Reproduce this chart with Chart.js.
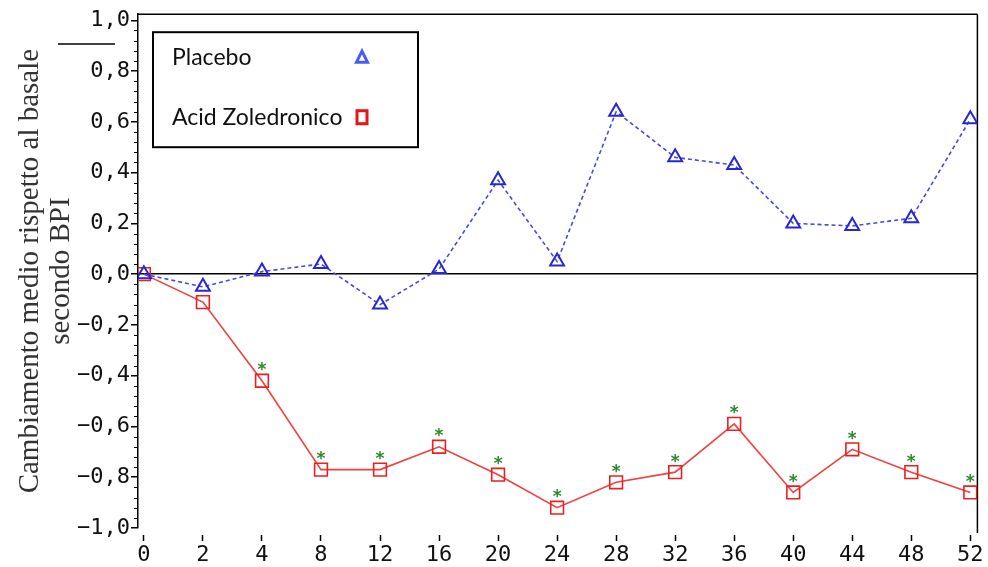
<!DOCTYPE html>
<html>
<head>
<meta charset="utf-8">
<script src="https://cdn.jsdelivr.net/npm/chart.js@4.4.1/dist/chart.umd.min.js"></script>
<style>
html, body { margin: 0; padding: 0; background: #fff; }
</style>
</head>
<body>
<canvas id="bpiChart" width="988" height="567"></canvas>
<script>
// settimane (asse x) e valori
const weeks = ["0", "2", "4", "8", "12", "16", "20", "24", "28", "32", "36", "40", "44", "48", "52"]
const placebo = [0, -0.05, 0.01, 0.04, -0.12, 0.02, 0.37, 0.05, 0.64, 0.46, 0.43, 0.20, 0.19, 0.22, 0.61]
const zoledronico = [0, -0.11, -0.42, -0.77, -0.77, -0.68, -0.79, -0.92, -0.82, -0.78, -0.59, -0.86, -0.69, -0.78, -0.86]
const signif = ["", "", "*", "*", "*", "*", "*", "*", "*", "*", "*", "*", "*", "*", "*"]
const yTicks = [-1.0, -0.8, -0.6, -0.4, -0.2, 0, 0.2, 0.4, 0.6, 0.8, 1.0]
const yTitle = ["Cambiamento medio rispetto al basale", "secondo BPI"]
const seriesNames = ["Placebo", "Acid Zoledronico"]

const monoFont = "'DejaVu Sans Mono', monospace"

function fmtY(v) {
    return v.toFixed(1).replace(".", ",").replace("-", "\u2212")
}

// cornice superiore e destra, tacche minori sull'asse y
const framePlugin = {
    id: "frame",
    beforeDatasetsDraw(chart) {
        const ctx = chart.ctx
        const a = chart.chartArea
        const y = chart.scales.y
        ctx.save()
        ctx.strokeStyle = "#000"
        ctx.lineWidth = 1.5
        ctx.beginPath()
        ctx.moveTo(a.left, a.top)
        ctx.lineTo(a.right, a.top)
        ctx.moveTo(a.right, a.top)
        ctx.lineTo(a.right, a.bottom + 5)
        ctx.stroke()
        ctx.lineWidth = 1.2
        ctx.beginPath()
        for (let i = -25; i <= 25; i++) {
            if (i % 5 == 0) continue
            const py = Math.round(y.getPixelForValue(i * 0.04)) + 0.5
            ctx.moveTo(a.left - 4, py)
            ctx.lineTo(a.left, py)
        }
        ctx.stroke()
        // trattino in alto a sinistra
        ctx.lineWidth = 1.5
        ctx.beginPath()
        ctx.moveTo(58, 44)
        ctx.lineTo(115, 44)
        ctx.stroke()
        ctx.restore()
    }
}

// asterischi verdi sopra i punti significativi
const starPlugin = {
    id: "stars",
    afterDatasetsDraw(chart) {
        const ctx = chart.ctx
        const meta = chart.getDatasetMeta(1)
        ctx.save()
        ctx.fillStyle = "#2a8a2a"
        ctx.font = "bold 17px 'DejaVu Sans'"
        ctx.textAlign = "center"
        ctx.textBaseline = "middle"
        signif.forEach((s, i) => {
            if (!s) return
            const p = meta.data[i]
            ctx.fillText(s, p.x, p.y - 10)
        })
        ctx.restore()
    }
}

// legenda riquadrata come nell'originale
const legendBoxPlugin = {
    id: "legendBox",
    afterDraw(chart) {
        const ctx = chart.ctx
        const a = chart.chartArea
        const bx = a.left + 15, by = a.top + 18, bw = 265, bh = 115
        ctx.save()
        ctx.strokeStyle = "#000"
        ctx.lineWidth = 2
        ctx.strokeRect(bx, by, bw, bh)
        ctx.fillStyle = "#111"
        ctx.font = "23px Lato"
        ctx.textBaseline = "middle"
        ctx.textAlign = "left"
        const rows = [by + 25, by + 85]
        seriesNames.forEach((name, i) => {
            ctx.fillText(name, bx + 19, rows[i])
        })
        const sx = bx + 209
        ctx.lineWidth = 3
        ctx.strokeStyle = "#4a5cf0"
        ctx.beginPath()
        ctx.moveTo(sx, rows[0] - 6)
        ctx.lineTo(sx + 5.5, rows[0] + 5)
        ctx.lineTo(sx - 5.5, rows[0] + 5)
        ctx.closePath()
        ctx.stroke()
        ctx.strokeStyle = "#e81515"
        ctx.strokeRect(sx - 5, rows[1] - 6.5, 10, 13)
        ctx.restore()
    }
}

const ctx = document.getElementById("bpiChart")
const bpiChart = new Chart(ctx, {
    type: "line",
    data: {
        datasets: [{
            label: seriesNames[0],
            data: placebo.map((v, i) => ({ x: i, y: v })),
            borderColor: "#4848e4",
            borderWidth: 1.6,
            borderDash: [4, 3],
            pointStyle: "triangle",
            pointRadius: 8,
            pointBorderWidth: 2,
            pointBorderColor: "#2828d0",
            pointBackgroundColor: "rgba(0,0,0,0)",
            tension: 0,
        }, {
            label: seriesNames[1],
            data: zoledronico.map((v, i) => ({ x: i, y: v })),
            borderColor: "#f04040",
            borderWidth: 1.6,
            pointStyle: "rect",
            pointRadius: 9,
            pointBorderWidth: 1.6,
            pointBorderColor: "#e82020",
            pointBackgroundColor: "rgba(0,0,0,0)",
            tension: 0,
        }],
    },
    options: {
        responsive: false,
        animation: false,
        devicePixelRatio: 1,
        layout: { padding: { top: 14, right: 8, left: 0, bottom: 0 } },
        plugins: {
            legend: { display: false },
            tooltip: { enabled: false },
        },
        scales: {
            x: {
                type: "linear",
                min: -0.1,
                max: 14.12,
                afterBuildTicks: (s) => { s.ticks = weeks.map((w, i) => ({ value: i })) },
                afterFit: (s) => { s.height = 39 },
                ticks: {
                    callback: (v) => weeks[v],
                    font: { family: monoFont, size: 22 },
                    color: "#111",
                    padding: 1,
                    maxRotation: 0,
                    autoSkip: false,
                },
                grid: {
                    drawOnChartArea: false,
                    drawTicks: true,
                    tickLength: 13,
                    tickColor: "#000",
                    tickWidth: 1.5,
                    tickBorderDash: [0, 7, 6, 40],
                },
                border: { display: false },
            },
            y: {
                min: -1,
                max: 1.024,
                afterBuildTicks: (s) => { s.ticks = yTicks.map((v) => ({ value: v })) },
                afterFit: (s) => { s.width = 138 },
                ticks: {
                    callback: (v) => fmtY(v),
                    font: { family: monoFont, size: 22 },
                    color: "#111",
                    padding: 1,
                },
                grid: {
                    color: (c) => (c.tick && c.tick.value === 0) ? "#000" : "rgba(0,0,0,0)",
                    lineWidth: 1.5,
                    tickLength: 7,
                    tickColor: "#000",
                    tickWidth: 1.5,
                },
                border: { display: true, color: "#000", width: 1.5 },
                title: {
                    display: true,
                    text: yTitle,
                    font: { family: "'Liberation Serif', serif", size: 29, lineHeight: 1.1 },
                    color: "#333",
                    padding: { top: 14, bottom: 0 },
                },
            },
        },
    },
    plugins: [framePlugin, starPlugin, legendBoxPlugin],
})
</script>
</body>
</html>
